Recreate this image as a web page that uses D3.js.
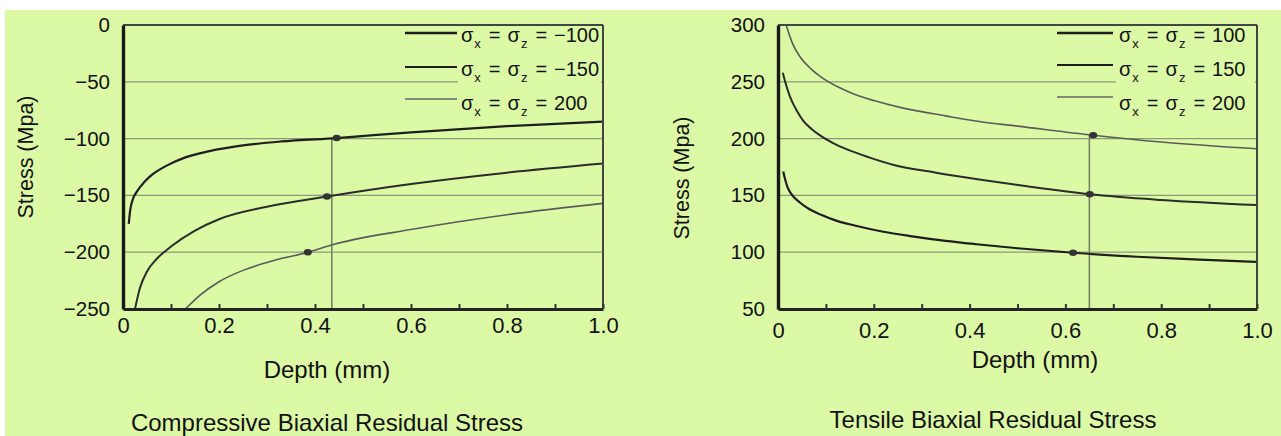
<!DOCTYPE html>
<html>
<head>
<meta charset="utf-8">
<script src="https://cdn.jsdelivr.net/npm/d3@7"></script>
<style>
  body { margin: 0; background: #fff; }
  text { font-family: "Liberation Sans", Arial, sans-serif; fill: #111; }
</style>
</head>
<body>
<svg id="chart" width="1281" height="436"></svg>
<script>
// ---- data ----
const depthTicks = [0, 0.1, 0.2, 0.3, 0.4, 0.5, 0.6, 0.7, 0.8, 0.9, 1.0];
const compYTicks = [0, -50, -100, -150, -200, -250];
const tensYTicks = [300, 250, 200, 150, 100, 50];

const compLegend = ["\u2212100", "\u2212150", "200"];
const tensLegend = ["100", "150", "200"];

// compressive curves [depth, stress]
const comp100 = [[0.012, -175], [0.015, -163], [0.02, -154], [0.03, -146], [0.045, -138], [0.06, -132],
  [0.09, -124], [0.13, -116.5], [0.18, -111], [0.25, -106], [0.33, -102.5], [0.445, -99.5], [0.6, -94.5],
  [0.8, -89], [1.0, -85]];
const comp150 = [[0.025, -250], [0.035, -232], [0.05, -217], [0.07, -206], [0.1, -195], [0.15, -181],
  [0.2, -171], [0.3, -160], [0.425, -151], [0.6, -140], [0.8, -130], [1.0, -122]];
const comp200 = [[0.13, -250], [0.16, -238], [0.2, -226], [0.25, -216], [0.3, -209], [0.385, -200],
  [0.44, -193], [0.6, -180], [0.8, -167], [1.0, -157]];
const compDots = [[0.445, -99.5], [0.425, -151], [0.385, -200]];
const compMarker = [0.435, -99.5];

// tensile curves [depth, stress]
const tens100 = [[0.011, 171], [0.015, 164], [0.02, 157], [0.03, 150], [0.045, 144], [0.065, 138], [0.09, 133],
  [0.12, 128], [0.16, 123.5], [0.22, 118], [0.28, 114], [0.35, 110], [0.415, 107], [0.5, 103.5],
  [0.616, 99.5], [0.75, 96], [0.88, 93.5], [1.0, 91.5]];
const tens150 = [[0.01, 258], [0.015, 250], [0.025, 237], [0.04, 224], [0.052, 216], [0.07, 208.5], [0.087, 203],
  [0.115, 196], [0.144, 190.5], [0.19, 183.5], [0.24, 177], [0.33, 170], [0.42, 164], [0.52, 158], [0.651, 151],
  [0.8, 146], [1.0, 141.5]];
const tens200 = [[0.017, 300], [0.03, 284], [0.046, 272], [0.07, 261], [0.094, 253], [0.13, 244.5], [0.157, 239.5],
  [0.2, 233.5], [0.255, 227.5], [0.35, 220], [0.42, 215], [0.5, 211], [0.658, 203], [0.8, 197], [1.0, 191]];
const tensDots = [[0.616, 99.5], [0.651, 151], [0.658, 203]];
const tensMarker = [0.65, 203];

// ---- drawing ----
const svg = d3.select("#chart");
svg.append("rect").attr("x", 5).attr("y", 10).attr("width", 1276).attr("height", 426).attr("fill", "#dcfaa5");

const curveStyles = [
  { stroke: "#1e1e1e", width: 2.2 },
  { stroke: "#2b2b2b", width: 2 },
  { stroke: "#5a5a5a", width: 1.6 }
];
const gridColor = "#8c9979";

function drawPanel(cfg) {
  const x = d3.scaleLinear().domain([0, 1]).range([cfg.left, cfg.right]);
  const y = d3.scaleLinear().domain(cfg.yDomain).range([cfg.bottom, cfg.top]);
  const g = svg.append("g");

  // horizontal grid lines
  g.selectAll(".grid").data(cfg.yTicks.slice(1, -1)).enter().append("line")
    .attr("x1", cfg.left).attr("x2", cfg.right)
    .attr("y1", d => y(d)).attr("y2", d => y(d))
    .attr("stroke", gridColor).attr("stroke-width", 1.3);

  // vertical marker
  g.append("line")
    .attr("x1", x(cfg.marker[0])).attr("x2", x(cfg.marker[0]))
    .attr("y1", y(cfg.marker[1])).attr("y2", cfg.bottom)
    .attr("stroke", "#75826a").attr("stroke-width", 1.6);

  // curves
  const line = d3.line().x(d => x(d[0])).y(d => y(d[1])).curve(d3.curveMonotoneX);
  cfg.curves.forEach((c, i) => {
    g.append("path").datum(c).attr("d", line).attr("fill", "none")
      .attr("stroke", curveStyles[i].stroke).attr("stroke-width", curveStyles[i].width);
  });

  g.selectAll(".dot").data(cfg.dots).enter().append("ellipse")
    .attr("cx", d => x(d[0])).attr("cy", d => y(d[1]))
    .attr("rx", 4).attr("ry", 3.3).attr("fill", "#333");

  // legend (with own background covering grid)
  g.append("rect").attr("x", cfg.legText - 3).attr("y", cfg.top + 2)
    .attr("width", cfg.right - cfg.legText + 1).attr("height", 88).attr("fill", "#dcfaa5");
  cfg.legend.forEach((lab, i) => {
    const ly = cfg.legLines[i];
    g.append("line").attr("x1", cfg.legX0).attr("x2", cfg.legX1).attr("y1", ly).attr("y2", ly)
      .attr("stroke", i === 2 ? "#666" : "#1e1e1e").attr("stroke-width", i === 0 ? 2.6 : (i === 1 ? 2.2 : 1.6));
    const t = g.append("text").attr("x", cfg.legText).attr("y", 42 + i * 34).style("font-size", "20px");
    t.append("tspan").text("\u03c3");
    t.append("tspan").attr("dx", 1).attr("dy", 6).style("font-size", "13px").text("x");
    t.append("tspan").attr("dx", 8).attr("dy", -6).text("=");
    t.append("tspan").attr("dx", 7).text("\u03c3");
    t.append("tspan").attr("dx", 1).attr("dy", 6).style("font-size", "13px").text("z");
    t.append("tspan").attr("dx", 8).attr("dy", -6).text("=");
    t.append("tspan").attr("dx", 7).text(lab);
  });

  // frame: top and right thin, left and bottom thick
  g.append("line").attr("x1", cfg.left).attr("x2", cfg.right).attr("y1", cfg.top).attr("y2", cfg.top)
    .attr("stroke", "#444").attr("stroke-width", 2);
  g.append("line").attr("x1", cfg.right).attr("x2", cfg.right).attr("y1", cfg.top).attr("y2", cfg.bottom)
    .attr("stroke", "#444").attr("stroke-width", 2);

  // x axis with inward ticks
  const xAxis = d3.axisBottom(x).tickValues(depthTicks).tickSizeInner(-5).tickSizeOuter(0)
    .tickPadding(cfg.xPad)
    .tickFormat(d => Math.round(d * 10) % 2 ? "" : (d === 0 ? "0" : d3.format(".1f")(d)));
  const gx = g.append("g").attr("transform", "translate(0," + cfg.bottom + ")").call(xAxis);
  gx.select(".domain").attr("stroke", "#222").attr("stroke-width", 3);
  gx.selectAll(".tick line").attr("stroke", "#333").attr("stroke-width", 2);
  gx.selectAll("text").style("font-size", "22px").attr("fill", "#111");

  const yAxis = d3.axisLeft(y).tickValues(cfg.yTicks).tickSize(0).tickPadding(13);
  const gy = g.append("g").attr("transform", "translate(" + cfg.left + ",0)").call(yAxis);
  gy.select(".domain").attr("stroke", "#1a1a1a").attr("stroke-width", 3.4);
  gy.selectAll("text").style("font-size", "20.5px").attr("fill", "#111");

  // labels
  g.append("text").attr("transform", "translate(" + cfg.yLab[0] + "," + cfg.yLab[1] + ") rotate(-90)")
    .attr("text-anchor", "middle").attr("dy", "0.35em").style("font-size", "21.5px").text("Stress (Mpa)");
  g.append("text").attr("x", cfg.xLab[0]).attr("y", cfg.xLab[1]).attr("text-anchor", "middle")
    .style("font-size", "24px").text("Depth (mm)");
  g.append("text").attr("x", cfg.title[0]).attr("y", cfg.title[1]).attr("text-anchor", "middle")
    .style("font-size", "24px").text(cfg.titleText);
}

drawPanel({
  left: 123, right: 603, top: 25, bottom: 309,
  yDomain: [-250, 0], yTicks: compYTicks,
  curves: [comp100, comp150, comp200], dots: compDots, marker: compMarker,
  legend: compLegend, legX0: 405, legX1: 457, legText: 461, legLines: [33, 67, 99],
  xPad: 8, yLab: [25, 157], xLab: [327, 378], title: [327, 431],
  titleText: "Compressive Biaxial Residual Stress"
});

drawPanel({
  left: 778, right: 1257, top: 25, bottom: 309,
  yDomain: [50, 300], yTicks: tensYTicks,
  curves: [tens100, tens150, tens200], dots: tensDots, marker: tensMarker,
  legend: tensLegend, legX0: 1057, legX1: 1113, legText: 1119, legLines: [33, 65, 97],
  xPad: 13, yLab: [681, 178], xLab: [1035, 368], title: [993, 428],
  titleText: "Tensile Biaxial Residual Stress"
});
</script>
</body>
</html>
